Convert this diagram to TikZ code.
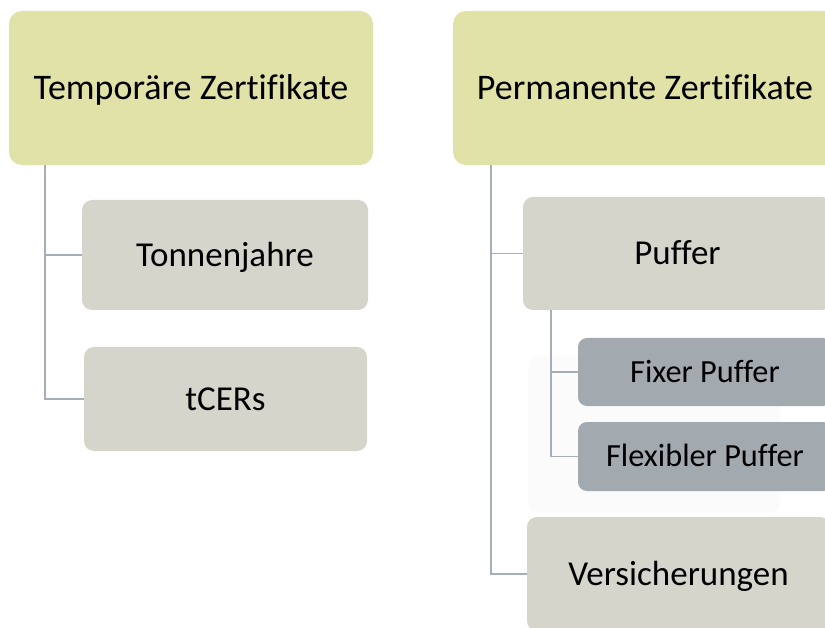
\documentclass[tikz,border=0pt]{standalone}
\usepackage{fontspec}
\setmainfont{Carlito}[Ligatures=CommonOff]
\definecolor{olive}{HTML}{E1E2A7}
\definecolor{lgray}{HTML}{D5D5CB}
\definecolor{dgray}{HTML}{A2A9AF}
\definecolor{conn}{HTML}{A6AFB8}
\definecolor{faint}{HTML}{FBFBFB}
\tikzset{
  topbox/.style={rectangle, rounded corners=13pt, fill=olive, inner sep=0pt,
    font=\fontsize{36}{40}\selectfont, text height=23pt, text depth=0pt},
  midbox/.style={rectangle, rounded corners=10pt, fill=lgray, inner sep=0pt,
    font=\fontsize{35}{40}\selectfont, text height=22.5pt, text depth=0pt},
  subbox/.style={rectangle, rounded corners=9pt, fill=dgray, inner sep=0pt,
    font=\fontsize{32.3}{36}\selectfont, text height=20.8pt, text depth=0pt},
  connline/.style={draw=conn, line width=1.5pt}
}
\begin{document}
\begin{tikzpicture}[x=1pt,y=-1pt]
\useasboundingbox (0,0) rectangle (825,628);
\clip (0,0) rectangle (825,628);
\fill[white] (0,0) rectangle (825,628);
\fill[faint, rounded corners=10pt] (528,357) rectangle (780,513);
\node[topbox, minimum width=364pt, minimum height=154pt] (temp) at (191,88) {Temporäre Zertifikate};
\node[topbox, minimum width=384pt, minimum height=154pt] (perm) at (645,88) {Permanente Zertifikate};
\node[midbox, minimum width=286pt, minimum height=110pt] (tonnen) at (225,255) {Tonnenjahre};
\node[midbox, minimum width=283pt, minimum height=104pt] (tcers) at (225.5,399) {tCERs};
\node[midbox, minimum width=309pt, minimum height=113pt] (puffer) at (677.5,253.5) {Puffer};
\node[subbox, minimum width=254pt, minimum height=68pt] (fixer) at (705,372) {Fixer Puffer};
\node[subbox, minimum width=254pt, minimum height=69pt] (flex) at (705,456.5) {Flexibler Puffer};
\node[midbox, minimum width=303pt, minimum height=114pt] (vers) at (678.5,574) {Versicherungen};
\coordinate (tl) at (45,165);
\coordinate (pl) at (491,165);
\coordinate (ql) at (551,310);
\draw[connline] (tl) |- (tonnen.west);
\draw[connline] (tl) |- (tcers.west);
\draw[connline] (pl) |- (puffer.west);
\draw[connline] (pl) |- (vers.west);
\draw[connline] (ql) |- (fixer.west);
\draw[connline] (ql) |- (flex.west);
\end{tikzpicture}
\end{document}
